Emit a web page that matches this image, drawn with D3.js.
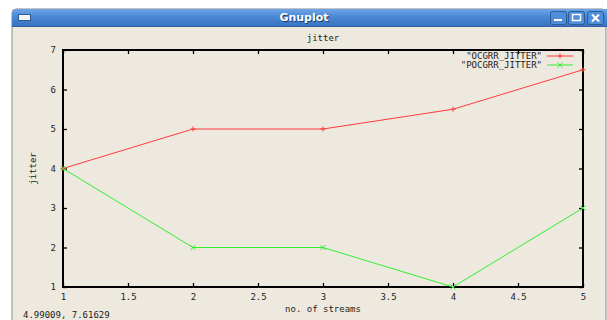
<!DOCTYPE html>
<html>
<head>
<meta charset="utf-8">
<script src="https://cdn.jsdelivr.net/npm/d3@7"></script>
<style>
  body { margin: 0; background: #fff; }
  svg text { font-family: "DejaVu Sans Mono", monospace; }
</style>
</head>
<body>
<svg id="chart" width="607" height="320"></svg>
<script>
'use strict';

// data
var streams = [1, 2, 3, 4, 5];
var ocgrr_jitter = [4, 5, 5, 5.5, 6.5];
var pocgrr_jitter = [4, 2, 2, 1, 3];
var x_ticks = [1, 1.5, 2, 2.5, 3, 3.5, 4, 4.5, 5];
var y_ticks = [1, 2, 3, 4, 5, 6, 7];
var series_names = ['"OCGRR_JITTER"', '"POCGRR_JITTER"'];

var svg = d3.select('#chart'),
    bg = '#ede9df',
    margin = {left: 63, top: 50, right: 583, bottom: 287};

// window frame
var defs = svg.append('defs');
var grad = defs.append('linearGradient')
    .attr('id', 'titlebar')
    .attr('x1', 0).attr('y1', 0).attr('x2', 0).attr('y2', 1);
grad.append('stop').attr('offset', '0%').attr('stop-color', '#6ea6e6');
grad.append('stop').attr('offset', '45%').attr('stop-color', '#4a88d6');
grad.append('stop').attr('offset', '100%').attr('stop-color', '#3a74c2');

svg.append('rect')
    .attr('x', 12).attr('y', 9)
    .attr('width', 594).attr('height', 330)
    .attr('rx', 4)
    .attr('fill', bg)
    .attr('stroke', '#8a8a8a');

svg.append('path')
    .attr('d', 'M12,26 L12,14 Q12,9 17,9 L607,9 L607,26 Z')
    .attr('fill', 'url(#titlebar)');

svg.append('line')
    .attr('x1', 12).attr('x2', 607).attr('y1', 26.5).attr('y2', 26.5)
    .attr('stroke', '#2f5f9e');

// window icon
svg.append('rect')
    .attr('x', 18.5).attr('y', 14.5).attr('width', 12).attr('height', 6)
    .attr('fill', '#f4f4f4').attr('stroke', '#2c5a94');

svg.append('text')
    .attr('x', 305).attr('y', 22)
    .attr('text-anchor', 'middle')
    .attr('fill', '#20406a')
    .attr('font-size', 11).attr('font-weight', 'bold')
    .style('font-family', 'DejaVu Sans, sans-serif')
    .text('Gnuplot')
    .clone(true)
    .attr('x', 304).attr('y', 21)
    .attr('fill', '#ffffff');

// min / max / close buttons
var buttons = [550, 568, 587];
buttons.forEach(function(bx, i) {
    svg.append('rect')
        .attr('x', bx + 0.5).attr('y', 11.5)
        .attr('width', 16).attr('height', 13).attr('rx', 2)
        .attr('fill', '#4f8edb').attr('stroke', '#2c5a94');
    if (i == 0) {
        svg.append('rect').attr('x', bx + 4).attr('y', 19).attr('width', 8).attr('height', 2).attr('fill', '#fff');
    } else if (i == 1) {
        svg.append('rect').attr('x', bx + 4.5).attr('y', 14.5).attr('width', 8).attr('height', 6)
            .attr('fill', 'none').attr('stroke', '#fff').attr('stroke-width', 1.5);
    } else {
        svg.append('path').attr('d', 'M' + (bx + 5) + ',14.5 L' + (bx + 12) + ',21.5 M' + (bx + 12) + ',14.5 L' + (bx + 5) + ',21.5')
            .attr('stroke', '#fff').attr('stroke-width', 2);
    }
});

// scales
var x = d3.scaleLinear().domain([1, 5]).range([margin.left, margin.right]);
var y = d3.scaleLinear().domain([1, 7]).range([margin.bottom, margin.top]);

var fmt = function(d) { return String(d); };

// axes with inward ticks
var gx = svg.append('g')
    .attr('transform', 'translate(0,' + margin.bottom + ')')
    .call(d3.axisBottom(x).tickValues(x_ticks).tickFormat(fmt).tickSize(-4).tickSizeOuter(0).tickPadding(7));
var gxt = svg.append('g')
    .attr('transform', 'translate(0,' + margin.top + ')')
    .call(d3.axisTop(x).tickValues(x_ticks).tickFormat('').tickSize(-4).tickSizeOuter(0));
var gy = svg.append('g')
    .attr('transform', 'translate(' + margin.left + ',0)')
    .call(d3.axisLeft(y).tickValues(y_ticks).tickFormat(fmt).tickSize(-4).tickSizeOuter(0).tickPadding(7));
var gyr = svg.append('g')
    .attr('transform', 'translate(' + margin.right + ',0)')
    .call(d3.axisRight(y).tickValues(y_ticks).tickFormat('').tickSize(-4).tickSizeOuter(0));

[gx, gxt, gy, gyr].forEach(function(g) {
    g.select('.domain').remove();
    g.selectAll('line').attr('stroke', '#000').attr('stroke-width', 1.3);
    g.selectAll('text').attr('fill', '#222').attr('font-size', 9)
        .style('font-family', 'DejaVu Sans Mono, monospace');
});

// border
svg.append('rect')
    .attr('x', margin.left).attr('y', margin.top)
    .attr('width', margin.right - margin.left)
    .attr('height', margin.bottom - margin.top)
    .attr('fill', 'none')
    .attr('stroke', '#000')
    .attr('stroke-width', 2);

// titles
svg.append('text')
    .attr('x', (margin.left + margin.right) / 2).attr('y', 41)
    .attr('text-anchor', 'middle').attr('font-size', 9).attr('fill', '#222')
    .text('jitter');

svg.append('text')
    .attr('x', (margin.left + margin.right) / 2).attr('y', 312)
    .attr('text-anchor', 'middle').attr('font-size', 9).attr('fill', '#222')
    .text('no. of streams');

svg.append('text')
    .attr('transform', 'translate(36,' + y(4) + ') rotate(-90)')
    .attr('text-anchor', 'middle').attr('font-size', 9).attr('fill', '#222')
    .text('jitter');

// mouse position readout in the status line
svg.append('text')
    .attr('x', 23).attr('y', 318)
    .attr('font-size', 9).attr('fill', '#222')
    .text('4.99009,  7.61629');

// series
var line = d3.line()
    .x(function(d) { return x(d.x); })
    .y(function(d) { return y(d.y); });

var series = [
    {name: series_names[0], values: ocgrr_jitter, color: '#ff3b3b', mark: 'plus'},
    {name: series_names[1], values: pocgrr_jitter, color: '#33ee33', mark: 'cross'}
];

function markPath(mark, cx, cy) {
    var r = 2.5;
    if (mark == 'plus') {
        return 'M' + (cx - r) + ',' + cy + 'H' + (cx + r) + 'M' + cx + ',' + (cy - r) + 'V' + (cy + r);
    }
    return 'M' + (cx - r) + ',' + (cy - r) + 'L' + (cx + r) + ',' + (cy + r) +
        'M' + (cx + r) + ',' + (cy - r) + 'L' + (cx - r) + ',' + (cy + r);
}

series.forEach(function(s, i) {
    var pts = streams.map(function(v, j) { return {x: v, y: s.values[j]}; });

    svg.append('path')
        .attr('d', line(pts))
        .attr('fill', 'none')
        .attr('stroke', s.color)
        .attr('stroke-width', 1);

    svg.append('g').selectAll('path')
        .data(pts)
        .enter().append('path')
        .attr('d', function(d) { return markPath(s.mark, x(d.x), y(d.y)); })
        .attr('stroke', s.color)
        .attr('stroke-width', 1);

    // legend entry
    var ly = 56 + i * 9;
    svg.append('text')
        .attr('x', 542).attr('y', ly + 3)
        .attr('text-anchor', 'end').attr('font-size', 9).attr('fill', '#222')
        .text(s.name);
    svg.append('line')
        .attr('x1', 547).attr('x2', 573).attr('y1', ly).attr('y2', ly)
        .attr('stroke', s.color);
    svg.append('path')
        .attr('d', markPath(s.mark, 560, ly))
        .attr('stroke', s.color);
});
</script>
</body>
</html>
